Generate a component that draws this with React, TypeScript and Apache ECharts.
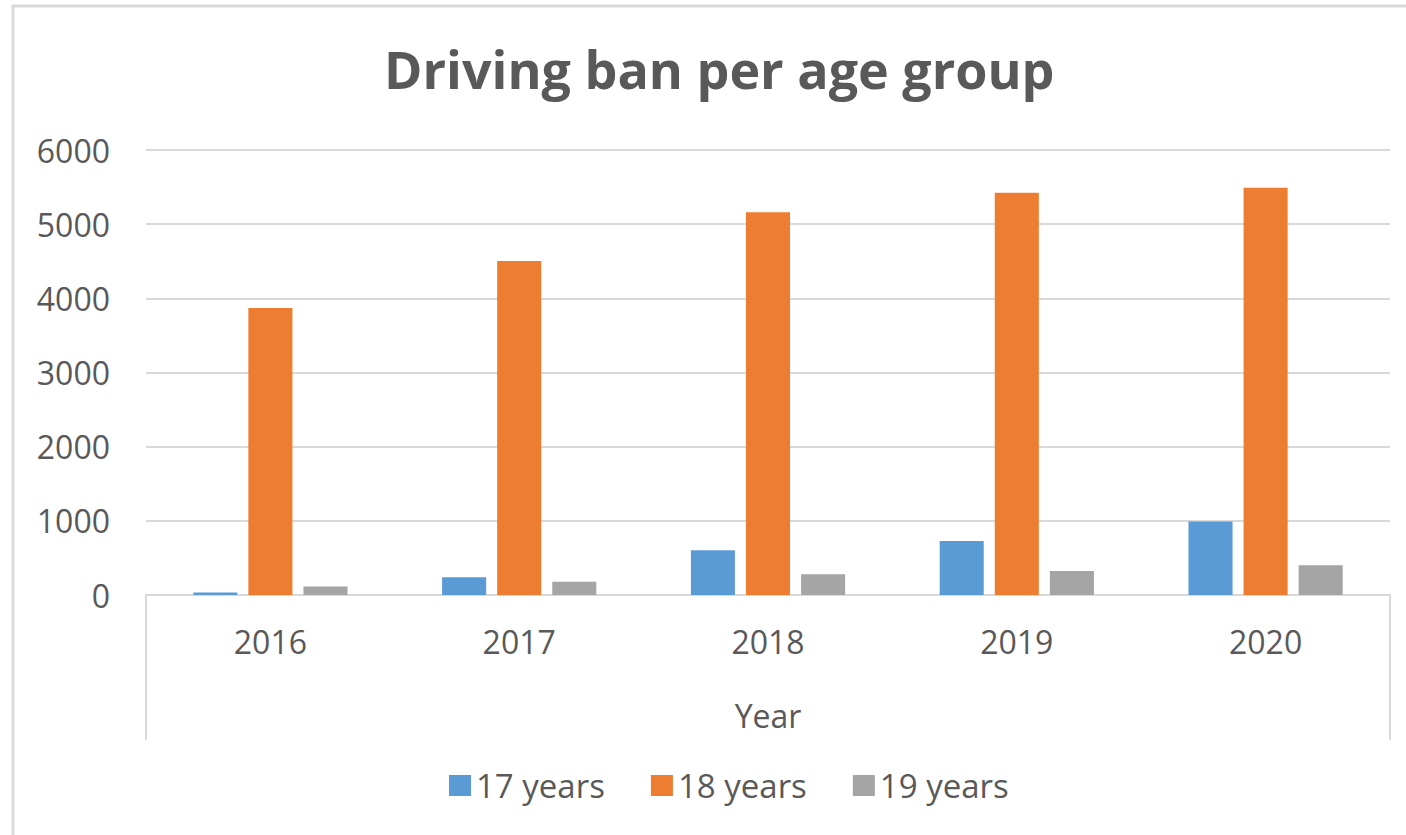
import React, { useEffect, useRef } from "react";
import * as echarts from "echarts";

const years = ["2016", "2017", "2018", "2019", "2020"];
const age17 = [35, 240, 605, 728, 990];
const age18 = [3870, 4505, 5160, 5425, 5490];
const age19 = [115, 180, 280, 322, 400];
const seriesNames = ["17 years", "18 years", "19 years"];
const colors = ["#5B9BD5", "#ED7D31", "#A5A5A5"];

const FONT = "'Open Sans', sans-serif";
const TEXT = "#595959";
const LINE = "#D9D9D9";

export default function App() {
  const ref = useRef<HTMLDivElement>(null);
  useEffect(() => {
    if (!ref.current) return;
    const chart = echarts.init(ref.current, undefined, { renderer: "svg" });
    const data = [age17, age18, age19];
    chart.setOption({
      animation: false,
      backgroundColor: "#ffffff",
      title: {
        text: "Driving ban per age group",
        left: 379,
        top: 37,
        textStyle: { fontFamily: FONT, fontSize: 52, fontWeight: "bold", color: TEXT },
      },
      grid: { left: 146, right: 16, top: 150, bottom: 240, containLabel: false },
      legend: {
        bottom: 33,
        left: 449,
        padding: 0,
        icon: "rect",
        itemWidth: 22,
        itemHeight: 21,
        itemGap: 46,
        textStyle: { fontFamily: FONT, fontSize: 33, color: TEXT },
        data: seriesNames,
      },
      xAxis: {
        type: "category",
        data: years,
        name: "Year",
        nameLocation: "middle",
        nameGap: 104,
        nameTextStyle: { fontFamily: FONT, fontSize: 32, color: TEXT },
        axisLine: { show: true, lineStyle: { color: LINE, width: 2 } },
        axisTick: { show: false },
        axisLabel: { fontFamily: FONT, fontSize: 32, color: TEXT, margin: 30 },
      },
      yAxis: {
        type: "value",
        min: 0,
        max: 6000,
        interval: 1000,
        axisLine: { show: false },
        axisTick: { show: false },
        splitLine: { lineStyle: { color: LINE, width: 2 } },
        axisLabel: {
          fontFamily: FONT,
          fontSize: 32,
          color: TEXT,
          margin: 36,
          formatter: (v: number) => String(v),
        },
      },
      series: data.map((d, i) => ({
        name: seriesNames[i],
        type: "bar",
        data: d,
        barGap: "25%",
        barCategoryGap: "38%",
        itemStyle: { color: colors[i] },
      })),
      graphic: [
        {
          type: "rect",
          shape: { x: 13, y: 6, width: 1420, height: 860 },
          style: { fill: "none", stroke: LINE, lineWidth: 3 },
          silent: true,
        },
        {
          type: "line",
          shape: { x1: 146, y1: 595, x2: 146, y2: 740 },
          style: { stroke: LINE, lineWidth: 2 },
          silent: true,
        },
        {
          type: "line",
          shape: { x1: 1390, y1: 595, x2: 1390, y2: 740 },
          style: { stroke: LINE, lineWidth: 2 },
          silent: true,
        },
      ],
    });
    return () => chart.dispose();
  }, []);
  return (
    <div
      ref={ref}
      style={{ position: "absolute", left: 0, top: 0, width: 1406, height: 835 }}
    />
  );
}
